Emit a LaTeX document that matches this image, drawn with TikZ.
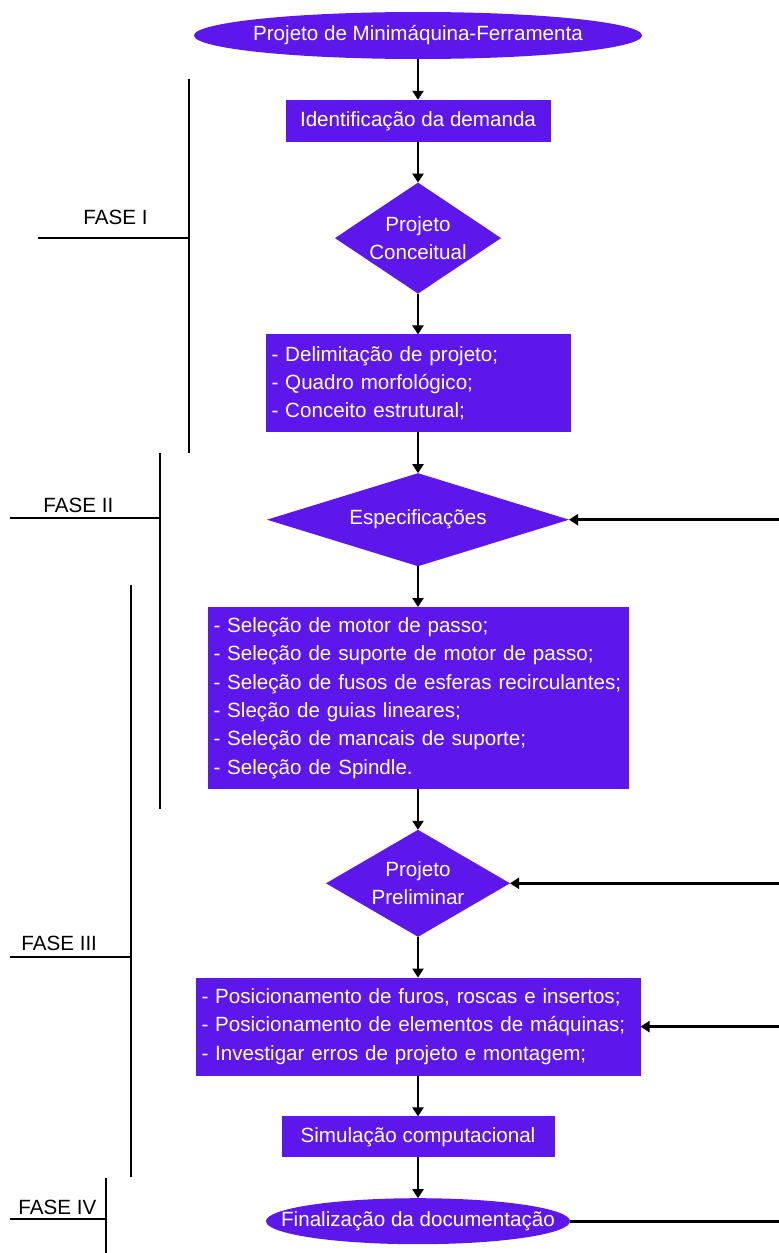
\documentclass[tikz,border=0pt]{standalone}
\usepackage{fontspec}
\setmainfont{Liberation Sans}
\usetikzlibrary{arrows.meta,positioning,shapes.geometric}
\definecolor{boxpurple}{RGB}{94,23,235}
\definecolor{lineblack}{RGB}{0,0,0}

\begin{document}
\begin{tikzpicture}[
  x=0.5pt, y=-0.5pt,
  node distance=20.4pt,
  every node/.style={font=\fontsize{10.3pt}{14.2pt}\selectfont},
  base/.style={fill=boxpurple, text=white, inner sep=0pt, outer sep=0pt},
  box/.style={base, rectangle, align=center},
  listbox/.style={base, rectangle, align=left, inner xsep=3pt},
  dec/.style={base, diamond, align=center},
  term/.style={base, ellipse, inner xsep=-20pt},
  arr/.style={-{Triangle[length=4.5pt,width=5.5pt]}, line width=1.3pt, draw=lineblack},
  phase/.style={line width=1.3pt, draw=lineblack},
  phaselabel/.style={anchor=base west, inner sep=0pt, text=lineblack}
]
\useasboundingbox (0,0) rectangle (779,1253);

\node[term, minimum width=224pt, minimum height=23.5pt] (top) at (418,35.5) {Projeto de Minimáquina-Ferramenta};
\node[box, minimum width=132.5pt, minimum height=21pt, below=of top] (ident) {Identificação da demanda};
\node[dec, minimum width=83pt, minimum height=55.5pt, aspect=1.5, below=of ident] (conc) {Projeto\\Conceitual};
\node[listbox, text width=146.5pt, minimum height=49pt, below=of conc] (delim) {- Delimitação de projeto;\\- Quadro morfológico;\\- Conceito estrutural;};
\node[dec, minimum width=151pt, minimum height=46.5pt, aspect=3.25, below=of delim] (espec) {Especificações};
\node[listbox, text width=204.5pt, minimum height=91pt, below=of espec] (selec) {- Seleção de motor de passo;\\- Seleção de suporte de motor de passo;\\- Seleção de fusos de esferas recirculantes;\\- Sleção de guias lineares;\\- Seleção de mancais de suporte;\\- Seleção de Spindle.};
\node[dec, minimum width=92pt, minimum height=53.5pt, aspect=1.7, below=of selec] (prelim) {Projeto\\Preliminar};
\node[listbox, text width=216.5pt, minimum height=49pt, below=of prelim] (posic) {- Posicionamento de furos, roscas e insertos;\\- Posicionamento de elementos de máquinas;\\- Investigar erros de projeto e montagem;};
\node[box, minimum width=136.5pt, minimum height=20.5pt, below=of posic] (simul) {Simulação computacional};
\node[term, minimum width=152pt, minimum height=23pt, below=of simul] (final) {Finalização da documentação};

\draw[arr] (top) -- (ident);
\draw[arr] (ident) -- (conc);
\draw[arr] (conc) -- (delim);
\draw[arr] (delim) -- (espec);
\draw[arr] (espec) -- (selec);
\draw[arr] (selec) -- (prelim);
\draw[arr] (prelim) -- (posic);
\draw[arr] (posic) -- (simul);
\draw[arr] (simul) -- (final);

\coordinate (edge) at (779,0);
\coordinate (r1) at (espec.east -| edge);
\coordinate (r2) at (prelim.east -| edge);
\coordinate (r3) at (posic.east -| edge);
\coordinate (r4) at (final.east -| edge);
\draw[arr] (r1) -- (espec);
\draw[arr] (r2) -- (prelim);
\draw[arr] (r3) -- (posic);
\draw[arr, -] (final) -- (r4);

\draw[phase] (189,79) -- (189,453);
\draw[phase] (38,238) -- (189,238);
\node[phaselabel] (f1) at (83,224) {FASE I};
\draw[phase] (160,453) -- (160,809);
\draw[phase] (10,518) -- (160,518);
\node[phaselabel] (f2) at (43,512) {FASE II};
\draw[phase] (131,585) -- (131,1177);
\draw[phase] (10,957) -- (131,957);
\node[phaselabel] (f3) at (21,950) {FASE III};
\draw[phase] (106,1178) -- (106,1253);
\draw[phase] (10,1219) -- (106,1219);
\node[phaselabel] (f4) at (18,1214) {FASE IV};
\end{tikzpicture}
\end{document}
